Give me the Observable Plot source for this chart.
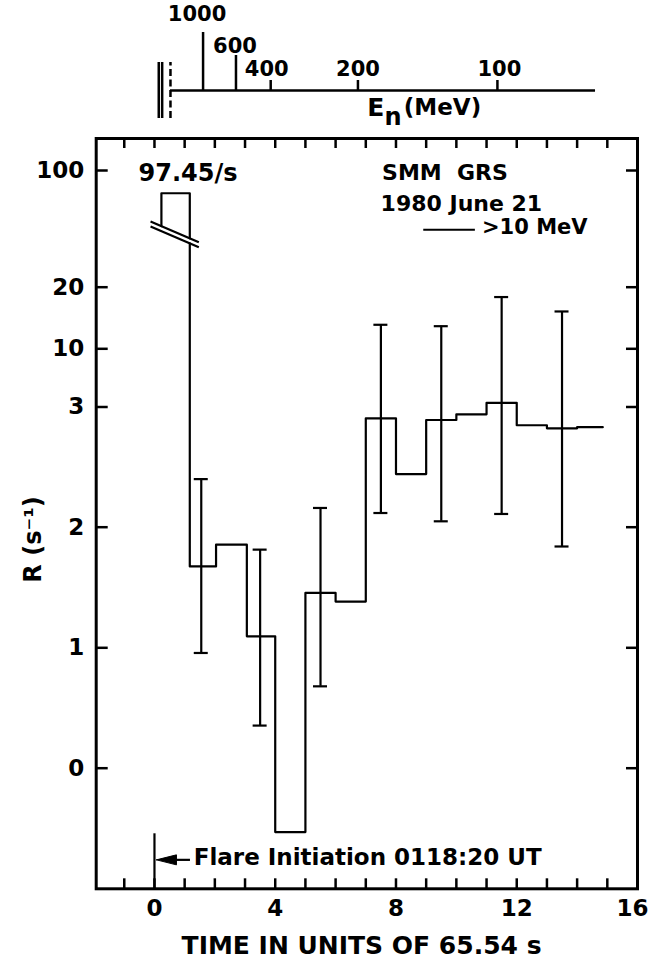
<!DOCTYPE html>
<html>
<head>
<meta charset="utf-8">
<script src="https://cdn.jsdelivr.net/npm/d3@7"></script>
<script src="https://cdn.jsdelivr.net/npm/@observablehq/plot@0.6"></script>
<style>
  html, body { margin: 0; padding: 0; background: #fff; }
  #chart svg { display: block; }
</style>
</head>
<body>
<div id="chart"></div>
<script>
// ---------------- data ----------------
const binEdges = [0.23, 1.17, 2.04, 3.06, 4, 5, 6, 7, 8, 9, 10, 11, 12, 13, 14, 14.85];
const binRates = [84.4, 1.675, 1.855, 1.095, -0.53, 1.455, 1.383, 2.906, 2.442, 2.892, 2.939, 3.5, 2.848, 2.823, 2.832];
const peakLabel = "97.45/s";
const errTimes = [1.55, 3.5, 5.5, 7.5, 9.5, 11.5, 13.5];
const errLow   = [0.957, 0.354, 0.68, 2.118, 2.049, 2.11, 1.84];
const errHigh  = [2.40, 1.814, 2.16, 13.9, 13.67, 18.4, 16.06];
const breakTimes = [-0.13, 1.47];
const breakUpper = [65.04, 50.85];
const breakLower = [61.61, 47.42];
const yTickValues = [0, 1, 2, 3, 10, 20, 100];
const xTickLabels = [0, 4, 8, 12, 16];
const xMinorTicks = [-1, 0, 1, 2, 3, 4, 5, 6, 7, 8, 9, 10, 11, 12, 13, 14, 15];
const energyLabels = [1000, 600, 400, 200, 100];
const energyTimes = [1.61, 2.70, 3.85, 6.74, 11.36];
const flareTime = [0];
const titleLines = ["SMM\u00a0\u00a0GRS", "1980 June 21"];
const legendLabel = ">10 MeV";
const flareLabel = "Flare Initiation 0118:20 UT";
const xTitle = "TIME IN UNITS OF 65.54 s";
const yTitle = "R (s\u207b\u00b9)";

// ---------------- layout ----------------
const W = 649, TOP_H = 128, MAIN_H = 832;
const xDomain = [-1.93, 16];
const mL = 95.7, mR = 12;
const unit = (W - mL - mR) / (xDomain[1] - xDomain[0]);
const tx = p => p / unit;                       // pixels -> time units
const yDomain = [-1, 0, 1, 2, 3, 10, 20, 100, 122];
const yRange  = [760.3, 639.7, 519.3, 398.7, 278.5, 220.3, 158.7, 42, 10];
const yS = d3.scaleLinear(yDomain, yRange);
const up = (v, p) => yS.invert(yS(v) - p);      // value p pixels above v
const FONT = "DejaVu Sans";

// ---------------- derived tables ----------------
const lineAt = (ys, t) => ys[0] + (t - breakTimes[0]) / (breakTimes[1] - breakTimes[0]) * (ys[1] - ys[0]);
const boxPts = [
  {t: binEdges[0], r: lineAt(breakUpper, binEdges[0])},
  {t: binEdges[0], r: binRates[0]},
  {t: binEdges[1], r: binRates[0]},
  {t: binEdges[1], r: lineAt(breakUpper, binEdges[1])}
];
const stepPts = [{t: binEdges[1], r: lineAt(breakLower, binEdges[1])}];
for (let i = 1; i < binRates.length; i++) stepPts.push({t: binEdges[i], r: binRates[i]});
stepPts.push({t: binEdges[binEdges.length - 1], r: binRates[binRates.length - 1]});
const errData = errTimes.map((t, i) => ({t, lo: errLow[i], hi: errHigh[i]}));
const breakData = [breakUpper, breakLower].map(ys => ({x1: breakTimes[0], x2: breakTimes[1], y1: ys[0], y2: ys[1]}));
const capW = tx(7);

// annotation anchors (data units)
const yLeg = up(100, -59.3);
const arrowY = -0.76;
const tip = tx(2), headEnd = tx(22), shaftEnd = tx(36);
const headPts = [
  {t: tip, r: arrowY},
  {t: headEnd, r: up(arrowY, 5)},
  {t: headEnd, r: up(arrowY, -5)},
  {t: tip, r: arrowY}
];
const xLabelShift = [0, 0, 0, 0, -5];

const txt = (data, o, ls) => Plot.text(data, {text: d => d, fontFamily: FONT, fontWeight: "bold", lineAnchor: "middle", fill: "black", ariaLabel: "ls:" + (ls || 0), ...o});

const mainPlot = Plot.plot({
  width: W, height: MAIN_H,
  marginLeft: mL, marginRight: mR, marginTop: 10, marginBottom: MAIN_H - 760.3,
  style: {fontFamily: FONT, fontWeight: "bold", fontSize: "23px", color: "black", background: "white", overflow: "visible"},
  x: {domain: xDomain, axis: null},
  y: {type: "linear", domain: yDomain, range: yRange, ticks: yTickValues, tickSize: 0, tickPadding: 12, label: null, tickFormat: d => String(d)},
  marks: [
    Plot.frame({stroke: "black", strokeWidth: 3}),
    Plot.ruleY(yTickValues, {y: d => d, x1: () => xDomain[0], x2: () => xDomain[0] + tx(12), strokeWidth: 2.5}),
    Plot.ruleY(yTickValues, {y: d => d, x1: () => xDomain[1] - tx(11), x2: () => xDomain[1], strokeWidth: 2.5}),
    Plot.ruleX(xMinorTicks, {x: d => d, y1: () => -1, y2: () => up(-1, 10), strokeWidth: 2.5}),
    Plot.ruleX(xMinorTicks, {x: d => d, y1: () => 122, y2: () => up(122, -10), strokeWidth: 2.5}),
    txt(xTickLabels, {x: (d, i) => d + tx(xLabelShift[i]), y: () => up(-1, -19.5), text: d => String(d), fontSize: 23, textAnchor: "middle"}, 0),
    Plot.line(boxPts, {x: "t", y: "r", stroke: "black", strokeWidth: 2.2}),
    Plot.link(breakData, {x1: "x1", y1: "y1", x2: "x2", y2: "y2", stroke: "black", strokeWidth: 2.2}),
    Plot.line(stepPts, {x: "t", y: "r", curve: "step-after", stroke: "black", strokeWidth: 2.2}),
    Plot.ruleX(errData, {x: "t", y1: "lo", y2: "hi", strokeWidth: 2.2}),
    Plot.ruleY(errData, {y: "lo", x1: d => d.t - capW, x2: d => d.t + capW, strokeWidth: 2.2}),
    Plot.ruleY(errData, {y: "hi", x1: d => d.t - capW, x2: d => d.t + capW, strokeWidth: 2.2}),
    txt([peakLabel], {x: () => 1.11, y: () => up(100, -2.5), fontSize: 24, textAnchor: "middle"}, 1),
    txt([titleLines[0]], {x: () => 7.54, y: () => up(100, -2.5), fontSize: 22, textAnchor: "start"}, 1.5),
    txt([titleLines[1]], {x: () => 7.49, y: () => up(100, -33.3), fontSize: 22, textAnchor: "start"}, 0.5),
    Plot.ruleY([yLeg], {y: d => d, x1: () => 8.92, x2: () => 10.63, strokeWidth: 2}),
    txt([legendLabel], {x: () => 10.85, y: () => up(100, -56.7), fontSize: 21, textAnchor: "start"}, 1),
    Plot.ruleX(flareTime, {x: d => d, y1: () => up(-1, 55), y2: () => -1, strokeWidth: 2.2}),
    Plot.ruleY([arrowY], {y: d => d, x1: () => headEnd - tx(1), x2: () => shaftEnd, strokeWidth: 2.2}),
    Plot.line(headPts, {x: "t", y: "r", fill: "black", stroke: "black", strokeWidth: 1}),
    txt([flareLabel], {x: () => 1.30, y: () => -0.743, fontSize: 23, textAnchor: "start"}, 0),
    txt([xTitle], {x: () => 6.86, y: () => up(-1, -56.7), fontSize: 25, textAnchor: "middle"}, 0.4),
    txt([yTitle], {x: () => -4.01, y: () => 1.898, fontSize: 24, textAnchor: "middle", rotate: -90}, 1.5)
  ]
});

const energyData = energyLabels.map((e, i) => ({e, t: energyTimes[i]}));
const tickLen = [58, 35, 10, 10, 10];
const labelLift = [76.5, 44, 21, 21, 21];
const labelShift = [-6, -1, -4, 0, 2];
const topPlot = Plot.plot({
  width: W, height: TOP_H,
  marginLeft: mL, marginRight: mR, marginTop: 0, marginBottom: 0,
  style: {fontFamily: FONT, fontWeight: "bold", fontSize: "21px", color: "black", background: "white", overflow: "visible"},
  x: {domain: xDomain, axis: null},
  y: {domain: [-38, 90], axis: null},
  marks: [
    Plot.ruleY([0], {y: d => d, x1: () => 0.53, x2: () => 14.61, strokeWidth: 2.5}),
    Plot.ruleX(energyData, {x: "t", y1: () => 0, y2: (d, i) => tickLen[i], strokeWidth: 2.5}),
    txt(energyData, {x: (d, i) => d.t + tx(labelShift[i]), y: (d, i) => labelLift[i], text: d => String(d.e), fontSize: 21, textAnchor: "middle"}, 0),
    Plot.ruleX([0.142, 0.255], {x: d => d, y1: () => -28, y2: () => 28, strokeWidth: 2.5}),
    Plot.ruleX([0.53], {x: d => d, y1: () => -28, y2: () => 28, strokeWidth: 2.5, strokeDasharray: "7,3.5"}),
    txt(["E"], {x: () => 7.05, y: () => -17.5, fontSize: 25, textAnchor: "start"}, 0),
    txt(["n"], {x: () => 7.62, y: () => -27, fontSize: 24, textAnchor: "start"}, 0),
    txt(["(MeV)"], {x: () => 8.26, y: () => -17.5, fontSize: 23, textAnchor: "start"}, 0.3)
  ]
});

function spacing(svg) {
  svg.querySelectorAll('g[aria-label^="ls:"]').forEach(g => {
    const v = g.getAttribute("aria-label").slice(3);
    g.querySelectorAll("text").forEach(t => t.setAttribute("letter-spacing", v));
  });
}
spacing(mainPlot); spacing(topPlot);
const chart = document.getElementById("chart");
chart.appendChild(topPlot);
chart.appendChild(mainPlot);
</script>
</body>
</html>
